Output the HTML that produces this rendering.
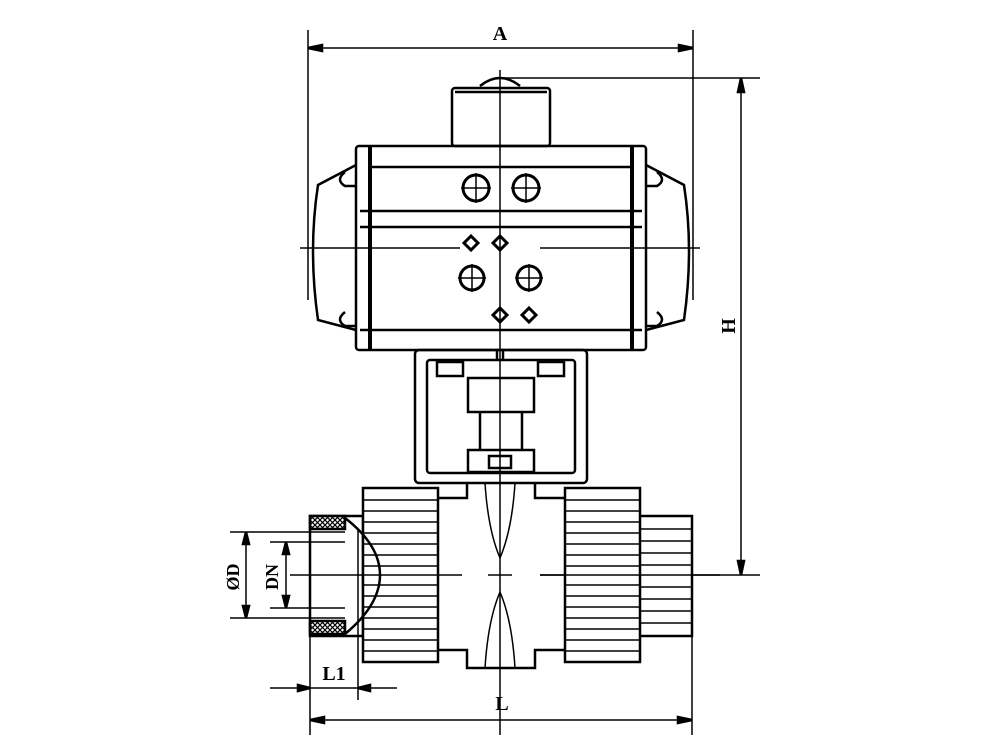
<!DOCTYPE html>
<html><head><style>body{margin:0;background:#fff}svg{display:block}</style></head><body>
<svg width="1000" height="750" viewBox="0 0 1000 750" xmlns="http://www.w3.org/2000/svg" fill="none" stroke="#000" stroke-width="2.5">
<defs>
<pattern id="h" width="5" height="5" patternUnits="userSpaceOnUse"><rect width="5" height="5" fill="#fff" stroke="none"/><path d="M0 0L5 5M5 0L0 5" stroke="#000" stroke-width="1.2"/></pattern>
</defs>
<!-- dims A -->
<line x1="308" y1="30" x2="308" y2="300" stroke-width="1.5"/>
<line x1="693" y1="30" x2="693" y2="300" stroke-width="1.5"/>
<line x1="308" y1="48" x2="693" y2="48" stroke-width="1.5"/>
<path d="M308 48l14-3v6zM693 48l-14-3v6z" fill="#000"/>
<text x="500" y="40" font-family="Liberation Serif" font-size="20" font-weight="bold" fill="#000" stroke="none" text-anchor="middle">A</text>
<!-- H -->
<line x1="500" y1="78" x2="760" y2="78" stroke-width="1.5"/>
<line x1="540" y1="575" x2="760" y2="575" stroke-width="1.5"/>
<line x1="741" y1="78" x2="741" y2="575" stroke-width="1.5"/>
<path d="M741 78l-3 14h6zM741 575l-3-14h6z" fill="#000"/>
<text x="735" y="326" font-family="Liberation Serif" font-size="20" font-weight="bold" fill="#000" stroke="none" text-anchor="middle" transform="rotate(-90 735 326)">H</text>
<!-- top cap -->
<path d="M480 86q20-16 40 0"/>
<rect x="452" y="88" width="98" height="58" rx="3"/>
<line x1="455" y1="92" x2="547" y2="92"/>
<line x1="500" y1="70" x2="500" y2="735" stroke-width="1.5"/>
<!-- end caps -->
<path d="M356 165L318 185Q308 250 318 320L356 330"/>
<path d="M646 165L684 185Q694 250 684 320L646 330"/>
<path d="M345 172q-10 8 0 14h10M345 312q-10 8 0 14h10M657 172q10 8 0 14h-10M657 312q10 8 0 14h-10"/>
<line x1="300" y1="248" x2="460" y2="248" stroke-width="1.5"/>
<line x1="540" y1="248" x2="700" y2="248" stroke-width="1.5"/>
<!-- body -->
<rect x="356" y="146" width="290" height="204" rx="3"/>
<line x1="370" y1="146" x2="370" y2="350" stroke-width="4"/>
<line x1="632" y1="146" x2="632" y2="350" stroke-width="4"/>
<line x1="370" y1="167" x2="632" y2="167"/>
<line x1="360" y1="211" x2="642" y2="211"/>
<line x1="360" y1="227" x2="642" y2="227"/>
<line x1="360" y1="330" x2="642" y2="330"/>
<g stroke-width="3">
<circle cx="476" cy="188" r="13"/><circle cx="526" cy="188" r="13"/>
<circle cx="472" cy="278" r="12"/><circle cx="529" cy="278" r="12"/>
<path d="M476 173v30M461 188h30M526 173v30M511 188h30M472 264v28M458 278h28M529 264v28M515 278h28" stroke-width="1.5"/>
<path d="M471 236l7 7-7 7-7-7zM500 236l7 7-7 7-7-7zM500 308l7 7-7 7-7-7zM529 308l7 7-7 7-7-7z"/>
</g>
<!-- bracket -->
<rect x="415" y="350" width="172" height="133" rx="4"/>
<rect x="427" y="360" width="148" height="113" rx="3"/>
<line x1="497" y1="350" x2="497" y2="360"/><line x1="503" y1="350" x2="503" y2="360"/>
<rect x="437" y="362" width="26" height="14"/><rect x="538" y="362" width="26" height="14"/>
<rect x="468" y="378" width="66" height="34"/>
<line x1="480" y1="412" x2="480" y2="450"/><line x1="522" y1="412" x2="522" y2="450"/>
<rect x="468" y="450" width="66" height="22"/>
<rect x="489" y="456" width="22" height="12"/>
<!-- ends -->
<rect x="310" y="516" width="53" height="120"/>
<rect x="310" y="516" width="35" height="13" fill="url(#h)"/>
<rect x="310" y="621" width="35" height="13" fill="url(#h)"/>
<line x1="358" y1="529" x2="358" y2="700" stroke-width="1.5"/>
<rect x="639" y="516" width="53" height="120" fill="#fff"/>
<g stroke-width="1.5">
<path d="M639 529h53M639 541h53M639 553h53M639 565h53M639 587h53M639 599h53M639 611h53M639 623h53"/>
</g>
<!-- nuts -->
<rect x="363" y="488" width="75" height="174" fill="#fff"/>
<rect x="565" y="488" width="75" height="174" fill="#fff"/>
<g stroke-width="1.5">
<path d="M363 500h75M363 511h75M363 522h75M363 533h75M363 544h75M363 555h75M363 566h75M363 585h75M363 596h75M363 607h75M363 618h75M363 629h75M363 640h75M363 651h75"/>
<path d="M565 500h75M565 511h75M565 522h75M565 533h75M565 544h75M565 555h75M565 566h75M565 585h75M565 596h75M565 607h75M565 618h75M565 629h75M565 640h75M565 651h75"/>
</g>
<path d="M345 518Q380 545 380 575Q380 605 345 634"/>
<!-- central body -->
<path d="M438 498h29v-15M535 483v15h30M438 650h29v18h68v-18h30"/>
<path d="M485 483Q488 530 500 558Q512 530 515 483M485 668Q488 620 500 592Q512 620 515 668" stroke-width="1.5"/>
<line x1="290" y1="575" x2="462" y2="575" stroke-width="1.5"/>
<line x1="488" y1="575" x2="512" y2="575" stroke-width="1.5"/>
<line x1="540" y1="575" x2="720" y2="575" stroke-width="1.5"/>
<!-- ØD DN -->
<g stroke-width="1.5">
<path d="M230 532h115M230 618h115M270 542h75M270 608h75"/>
<line x1="246" y1="532" x2="246" y2="618"/><line x1="286" y1="542" x2="286" y2="608"/>
</g>
<path d="M246 532l-3 12h6zM246 618l-3-12h6zM286 542l-3 12h6zM286 608l-3-12h6z" fill="#000"/>
<text x="239" y="577" font-family="Liberation Serif" font-size="18" font-weight="bold" fill="#000" stroke="none" text-anchor="middle" transform="rotate(-90 239 577)">ØD</text>
<text x="278" y="577" font-family="Liberation Serif" font-size="18" font-weight="bold" fill="#000" stroke="none" text-anchor="middle" transform="rotate(-90 278 577)">DN</text>
<!-- L1, L -->
<line x1="310" y1="636" x2="310" y2="735" stroke-width="1.5"/>
<line x1="692" y1="636" x2="692" y2="735" stroke-width="1.5"/>
<line x1="270" y1="688" x2="397" y2="688" stroke-width="1.5"/>
<path d="M310 688l-12-3v6zM358 688l12-3v6z" fill="#000"/>
<text x="334" y="680" font-family="Liberation Serif" font-size="20" font-weight="bold" fill="#000" stroke="none" text-anchor="middle">L1</text>
<line x1="310" y1="720" x2="692" y2="720" stroke-width="1.5"/>
<path d="M310 720l14-3v6zM692 720l-14-3v6z" fill="#000"/>
<text x="502" y="710" font-family="Liberation Serif" font-size="20" font-weight="bold" fill="#000" stroke="none" text-anchor="middle">L</text>
</svg>
</body></html>
